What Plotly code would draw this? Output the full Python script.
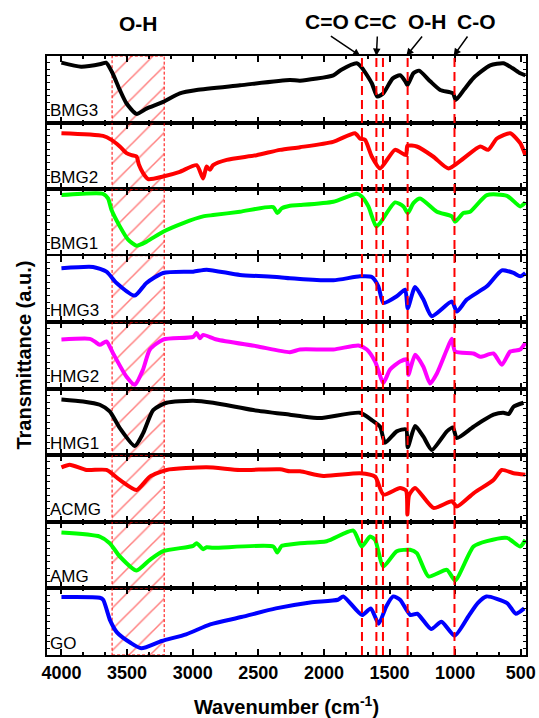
import plotly.graph_objects as go
from plotly.subplots import make_subplots

# ---------------- data ----------------
labels = ["BMG3", "BMG2", "BMG1", "HMG3", "HMG2", "HMG1", "ACMG", "AMG", "GO"]
colors = ["#000000", "#FF0000", "#00FF00", "#0000FF", "#FF00FF",
          "#000000", "#FF0000", "#00FF00", "#0000FF"]

wn_bmg3 = [4000, 3850, 3700, 3660, 3615, 3555, 3505, 3428, 3352, 3225, 3098, 2970, 2640, 2260,
           2182, 1928, 1870, 1750, 1709, 1635, 1593, 1547, 1477, 1420, 1380, 1364, 1318, 1275,
           1190, 1114, 1017, 995, 930, 860, 733, 632, 565, 504, 465]
t_bmg3 = [90, 84, 88, 90, 76, 49, 29, 13, 21, 31, 44, 49, 56, 64,
          63, 71, 79, 89, 82, 59, 39, 44, 66, 71, 62, 56, 74, 78,
          62, 49, 44, 34, 50, 67, 86, 89, 82, 74, 71]

wn_bmg2 = [4000, 3683, 3619, 3555, 3504, 3466, 3428, 3410, 3378, 3339, 3225, 3098, 2970, 2920,
           2894, 2869, 2844, 2741, 2513, 2335, 2182, 1930, 1763, 1725, 1687, 1635, 1572, 1458,
           1374, 1364, 1292, 1168, 1051, 937, 809, 748, 682, 580, 504, 465]
t_bmg2 = [84, 80, 74, 64, 54, 51, 49, 37, 24, 15, 19, 26, 36, 16,
          34, 29, 36, 44, 51, 59, 63, 71, 84, 76, 74, 49, 31, 59,
          51, 65, 64, 49, 31, 46, 64, 59, 76, 84, 69, 51]

wn_bmg1 = [4000, 3683, 3645, 3619, 3555, 3492, 3428, 3352, 3225, 3072, 2920, 2844, 2640, 2386,
           2355, 2322, 2259, 2182, 1928, 1750, 1712, 1661, 1602, 1572, 1458, 1394, 1361, 1318,
           1267, 1139, 1025, 1000, 937, 886, 758, 605, 504, 465]
t_bmg1 = [91, 93, 86, 69, 44, 24, 15, 21, 36, 49, 59, 61, 66, 73,
          64, 71, 75, 76, 81, 93, 89, 74, 44, 49, 80, 74, 64, 79,
          86, 66, 59, 51, 64, 66, 91, 90, 74, 80]

wn_hmg3 = [4000, 3759, 3657, 3580, 3441, 3352, 3225, 2996, 2894, 2640, 2360, 2259, 2182, 1928,
           1725, 1635, 1585, 1547, 1445, 1381, 1361, 1305, 1242, 1178, 1025, 987, 911, 758,
           644, 555, 504, 465]
t_hmg3 = [81, 83, 76, 59, 40, 59, 74, 76, 79, 71, 68, 66, 65, 63,
          69, 68, 54, 29, 39, 49, 21, 53, 34, 9, 31, 16, 34, 54,
          78, 74, 69, 74]

wn_hmg2 = [4000, 3784, 3746, 3708, 3657, 3606, 3504, 3441, 3378, 3326, 3225, 2996, 2970, 2945,
           2920, 2818, 2513, 2259, 2182, 1928, 1737, 1673, 1610, 1547, 1496, 1420, 1368, 1356,
           1305, 1242, 1191, 1139, 1063, 1025, 1000, 860, 809, 708, 644, 580, 504, 465]
t_hmg2 = [74, 75, 71, 66, 71, 53, 18, 6, 29, 59, 74, 78, 84, 76,
          81, 74, 64, 55, 59, 59, 65, 59, 41, 9, 29, 41, 44, 21,
          51, 33, 8, 23, 59, 75, 56, 53, 48, 53, 36, 56, 59, 69]

wn_hmg1 = [4000, 3835, 3708, 3632, 3555, 3441, 3378, 3301, 3199, 2996, 2844, 2538, 2259, 2182,
           2030, 1725, 1635, 1572, 1534, 1445, 1374, 1361, 1305, 1242, 1178, 1063, 1017, 987,
           860, 708, 632, 593, 555, 479]
t_hmg1 = [84, 81, 76, 66, 41, 14, 33, 68, 79, 82, 79, 68, 61, 59,
          56, 64, 53, 43, 19, 36, 39, 12, 44, 28, 8, 36, 42, 26,
          43, 61, 64, 62, 73, 79]

wn_acmg = [4000, 3937, 3809, 3657, 3555, 3428, 3326, 3199, 2894, 2640, 2335, 2259, 2182, 2004,
           1725, 1610, 1547, 1420, 1374, 1364, 1351, 1305, 1165, 1025, 987, 860, 708, 644,
           555, 465]
t_acmg = [82, 86, 78, 78, 63, 48, 68, 78, 82, 78, 79, 76, 76, 69,
          73, 68, 41, 51, 47, 11, 40, 51, 21, 31, 23, 43, 63, 78,
          73, 71]

wn_amg = [4000, 3708, 3632, 3555, 3428, 3326, 3225, 2996, 2970, 2920, 2894, 2844, 2386, 2355,
          2322, 2259, 2182, 1979, 1776, 1712, 1648, 1610, 1547, 1445, 1343, 1292, 1203, 1063,
          1000, 860, 758, 605, 504, 465]
t_amg = [84, 78, 68, 48, 27, 43, 56, 64, 68, 59, 62, 61, 63, 54,
         64, 66, 68, 71, 87, 63, 78, 73, 33, 56, 58, 53, 18, 28,
         12, 63, 71, 76, 63, 73]

wn_go = [4000, 3708, 3682, 3629, 3577, 3471, 3392, 3235, 3050, 2866, 2629, 2366, 2104, 1893,
         1852, 1709, 1643, 1583, 1525, 1472, 1420, 1341, 1288, 1183, 1104, 1004, 893, 828,
         762, 604, 538, 473]
t_go = [87, 86, 83, 52, 34, 18, 10, 21, 31, 46, 57, 70, 79, 83,
        88, 60, 70, 47, 73, 88, 83, 60, 62, 39, 50, 29, 60, 78,
        88, 78, 62, 70]

wavenumbers = [wn_bmg3, wn_bmg2, wn_bmg1, wn_hmg3, wn_hmg2, wn_hmg1, wn_acmg, wn_amg, wn_go]
transmittance = [t_bmg3, t_bmg2, t_bmg1, t_hmg3, t_hmg2, t_hmg1, t_acmg, t_amg, t_go]

peak_lines = [1710, 1600, 1550, 1362, 1005]
oh_band = [3614, 3217]
bond_labels = ["C=O", "C=C", "O-H", "C-O"]
bond_heads = [1722, 1600, 1372, 1012]
x_ticks = [4000, 3500, 3000, 2500, 2000, 1500, 1000, 500]

# ---------------- figure ----------------
n = len(labels)
fig = make_subplots(rows=n, cols=1, shared_xaxes=True, vertical_spacing=0)

BOLD = dict(family="Liberation Sans, Arial", color="black", weight="bold")

for i in range(n):
    r = i + 1
    fig.add_trace(go.Scatter(
        x=[oh_band[0], oh_band[1], oh_band[1], oh_band[0], oh_band[0]],
        y=[0, 0, 100, 100, 0], mode="lines", fill="toself",
        fillcolor="rgba(0,0,0,0)",
        fillpattern=dict(shape="/", fgcolor="#FF0000", bgcolor="rgba(0,0,0,0)",
                         size=15, solidity=0.1),
        line=dict(color="#FF0000", width=1, dash="3px,2px"),
        hoverinfo="skip", showlegend=False), row=r, col=1)
    fig.add_trace(go.Scatter(
        x=wavenumbers[i], y=transmittance[i], mode="lines",
        line=dict(color=colors[i], width=4, shape="spline", smoothing=0.6),
        showlegend=False, name=labels[i]), row=r, col=1)
    xa = "x" if r == 1 else f"x{r}"
    ya = "y" if r == 1 else f"y{r}"
    fig.add_annotation(text=labels[i], xref=f"{xa} domain", yref=f"{ya} domain",
                       x=0, y=0.18, xanchor="left", yanchor="middle", xshift=1,
                       showarrow=False,
                       font=dict(family="Liberation Sans, Arial", size=17, color="black"))

fig.update_xaxes(range=[4110, 460], showline=True, linewidth=2, linecolor="black",
                 mirror="ticks", ticks="inside", ticklen=6, tickwidth=2, tickcolor="black",
                 tickvals=x_ticks, automargin=False,
                 minor=dict(ticks="inside", ticklen=3, tickwidth=1.5, tickcolor="black",
                            dtick=500 / 3, tick0=0),
                 showgrid=False, zeroline=False)
fig.update_yaxes(range=[0, 100], showline=True, linewidth=2, linecolor="black",
                 mirror="ticks", ticks="inside", ticklen=3, tickwidth=1.2, tickcolor="black",
                 dtick=10, showticklabels=False, showgrid=False, zeroline=False,
                 automargin=False)
fig.update_xaxes(row=n, col=1, showticklabels=True, ticktext=[str(v) for v in x_ticks],
                 tickfont=dict(size=18, **BOLD),
                 title=dict(text="Wavenumber (cm<sup>-1</sup>)", font=dict(size=20, **BOLD),
                            standoff=22))

for xv in peak_lines:
    fig.add_shape(type="line", xref="x", yref="paper", x0=xv, x1=xv, y0=0, y1=1,
                  line=dict(color="#FF0000", width=2, dash="9px,5px"), layer="above")

# y axis title
fig.add_annotation(text="Transmittance (a.u.)", xref="paper", yref="paper", x=-0.05, y=0.5,
                   textangle=-90, showarrow=False, xanchor="center", yanchor="middle",
                   font=dict(size=20, **BOLD))

# top labels
fig.add_annotation(text="O-H", xref="paper", yref="paper", x=0.19, y=1.054,
                   xanchor="center", yanchor="middle",
                   showarrow=False, font=dict(size=21, **BOLD))
label_x = [0.585, 0.685, 0.794, 0.896]
arrow_ax = [-31, 1, 17, 15]
for txt, lx, hx, ax in zip(bond_labels, label_x, bond_heads, arrow_ax):
    fig.add_annotation(text=txt, xref="paper", yref="paper", x=lx, y=1.057,
                       xanchor="center", yanchor="middle",
                       showarrow=False, font=dict(size=21, **BOLD))
    fig.add_annotation(text="", xref="x", yref="paper", x=hx, y=1.0,
                       showarrow=True, ax=ax, ay=-21, arrowhead=2, arrowsize=1,
                       arrowwidth=1.5, arrowcolor="black", standoff=0, startstandoff=0)

fig.update_layout(width=539, height=718, margin=dict(l=47, r=13, t=56, b=63),
                  plot_bgcolor="white", paper_bgcolor="white",
                  font=dict(family="Liberation Sans, Arial", color="black"))

fig.write_html("out.html")
